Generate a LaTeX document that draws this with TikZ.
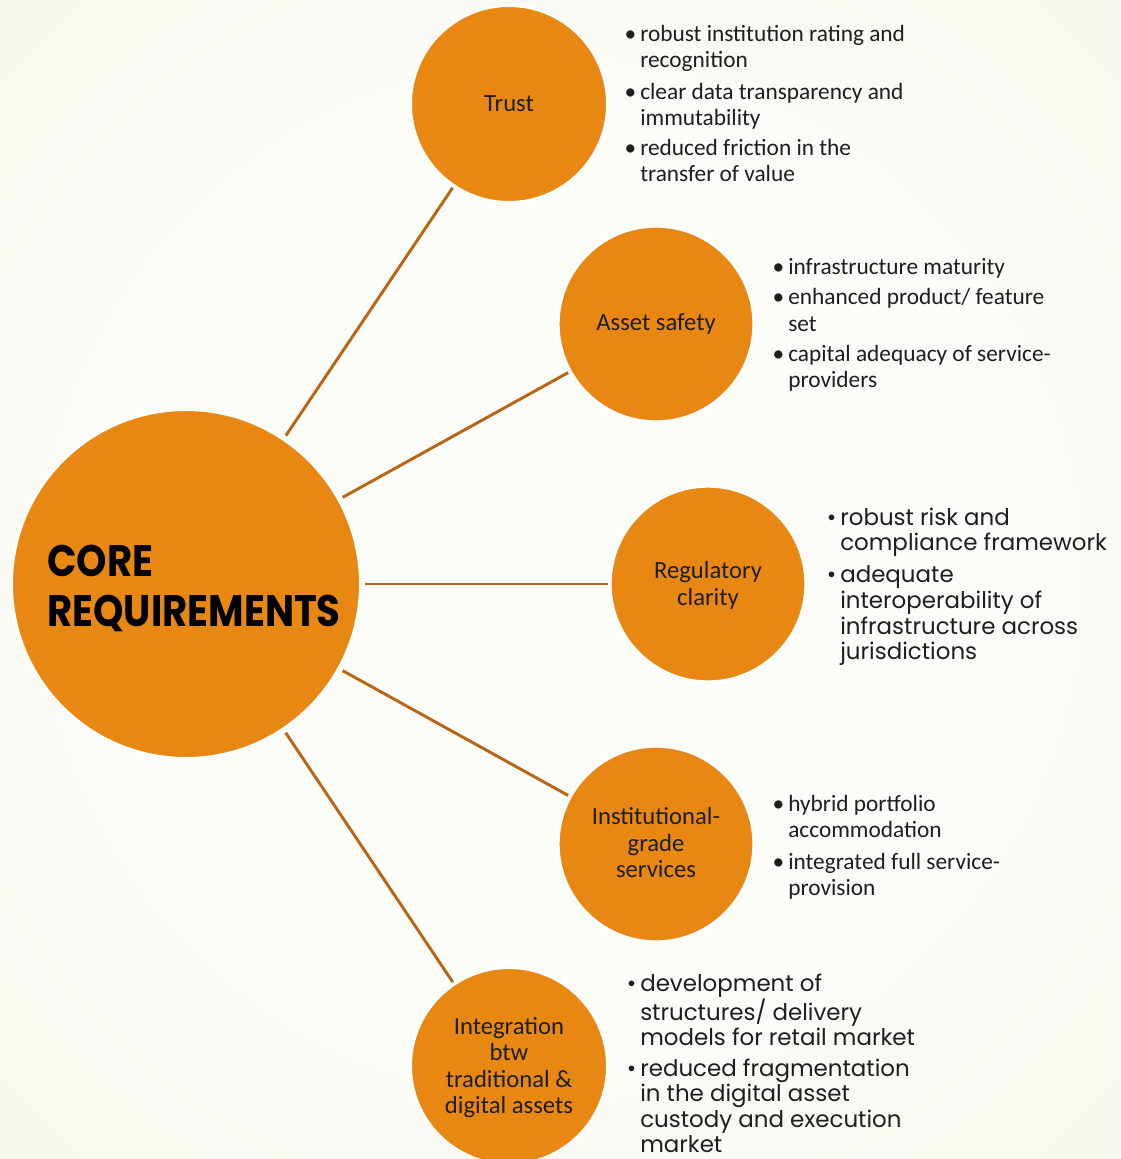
\documentclass[tikz,border=0pt]{standalone}
\usepackage{fontspec}
\setmainfont{Carlito}
\newfontfamily\gothic{Poppins}
\usepackage{graphicx}
\definecolor{orng}{RGB}{232,136,18}
\definecolor{lnc}{RGB}{184,102,22}
\definecolor{bgout}{RGB}{237,235,211}
\definecolor{bgmid}{RGB}{246,245,233}
\definecolor{bgin}{RGB}{252,252,249}
\definecolor{txt}{RGB}{30,30,30}
\pgfdeclareradialshading{bgshade}{\pgfpoint{0bp}{0bp}}{color(0bp)=(bgin); color(14bp)=(bgin); color(34bp)=(bgmid); color(52bp)=(bgout); color(70bp)=(bgout)}
\newcommand{\bul}{\llap{\textbullet\hspace{3pt}}}
\begin{document}
\begin{tikzpicture}[x=0.75pt,y=-0.75pt,
  bubble/.style={circle,fill=orng,draw=white,line width=1.5pt,inner sep=0pt,align=center,
    text=txt,font=\fontsize{18.5}{19.7}\selectfont},
  link/.style={draw=lnc,line width=2.2pt,shorten <=3pt,shorten >=1.5pt},
  blist/.style={anchor=base west,inner sep=0pt,text=txt,font=\fontsize{17.5}{19.5}\selectfont},
  glist/.style={anchor=base west,inner sep=0pt,text=txt,font=\gothic\fontsize{17.2}{19.2}\selectfont}]
\useasboundingbox (0,0) rectangle (1120,1159);
\clip (0,0) rectangle (1120,1159);
\shade[shading=bgshade] (-200,-180) rectangle (1320,1339);

\node[bubble,minimum size=261pt,font=\gothic\bfseries\fontsize{29}{38}\selectfont,text=black] (core) at (186,584)
  {\raisebox{-5.5pt}[\height][\depth]{\begin{tabular}{@{\hspace{12pt}}l@{}}\scalebox{1}[1.14]{CORE}\\\scalebox{1}[1.14]{REQUIREMENTS}\end{tabular}}};
\node[bubble,minimum size=147pt] (trust) at (509,104) {Trust};
\node[bubble,minimum size=146pt] (asset) at (656,324) {Asset safety};
\node[bubble,minimum size=146pt] (reg) at (708,584) {\raisebox{-2pt}[\height][\depth]{\begin{tabular}{@{}c@{}}Regulatory\\clarity\end{tabular}}};
\node[bubble,minimum size=146pt] (inst) at (656,844) {\raisebox{-1.5pt}[\height][\depth]{\begin{tabular}{@{}c@{}}Institutional-\\grade\\services\end{tabular}}};
\node[bubble,minimum size=147pt] (integ) at (509,1066) {\raisebox{-2pt}[\height][\depth]{\begin{tabular}{@{}c@{}}Integration\\btw\\traditional \&\\digital assets\end{tabular}}};

\draw[link] (core) -- (trust);
\draw[link] (core) -- (asset);
\draw[link] (core) -- (reg);
\draw[link] (core) -- (inst);
\draw[link] (core) -- (integ);

\node[blist] (tl) at (640,42) {\begin{tabular}[t]{@{}l@{}}
\bul robust institution rating and\\ recognition\\[4.5pt]
\bul clear data transparency and\\ immutability\\[3pt]
\bul reduced friction in the\\ transfer of value\end{tabular}};
\node[blist] (al) at (788,274) {\begin{tabular}[t]{@{}l@{}}
\bul infrastructure maturity\\[3pt]
\bul enhanced product/ feature\\[1.2pt] set\\[3pt]
\bul capital adequacy of service-\\ providers\end{tabular}};
\node[glist] (rl) at (840,525) {\begin{tabular}[t]{@{}l@{}}
\bul robust risk and\\ compliance framework\\[5pt]
\bul adequate\\ interoperability of\\ infrastructure across\\ jurisdictions\end{tabular}};
\node[blist] (il) at (788,811) {\begin{tabular}[t]{@{}l@{}}
\bul hybrid portfolio\\ accommodation\\[5pt]
\bul integrated full service-\\ provision\end{tabular}};
\node[glist] (gl) at (640,991) {\begin{tabular}[t]{@{}l@{}}
\bul development of\\ structures/ delivery\\ models for retail market\\[3.5pt]
\bul reduced fragmentation\\ in the digital asset\\ custody and execution\\ market\end{tabular}};
\end{tikzpicture}
\end{document}
